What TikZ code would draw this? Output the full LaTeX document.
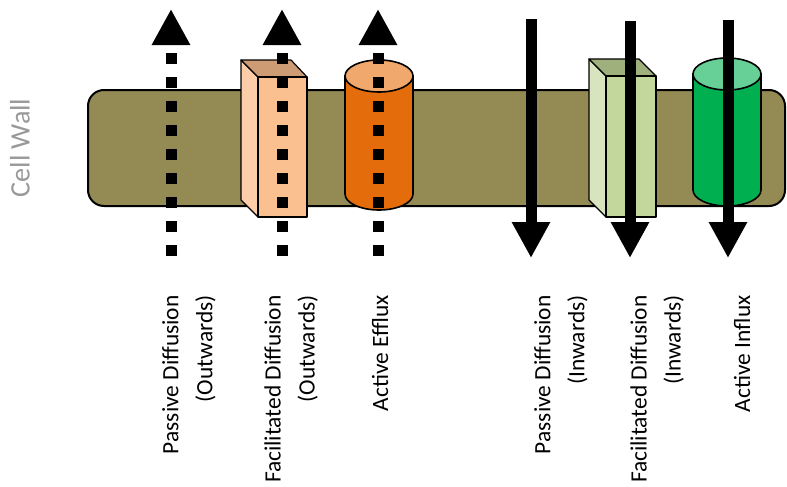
\documentclass[tikz,border=0pt]{standalone}
\usepackage{fontspec}
\setmainfont{Carlito}
\usepackage{xcolor}
\usepackage{tikz}
\usetikzlibrary{arrows.meta}
\definecolor{wallolive}{RGB}{148,138,84}
\definecolor{effluxorange}{RGB}{228,108,10}
\definecolor{effluxtop}{RGB}{240,168,108}
\definecolor{influxgreen}{RGB}{0,176,80}
\definecolor{influxtop}{RGB}{102,208,150}
\definecolor{chanfront}{RGB}{250,192,144}
\definecolor{chanside}{RGB}{252,205,168}
\definecolor{chantop}{RGB}{205,155,116}
\definecolor{gchanfront}{RGB}{195,214,155}
\definecolor{gchanside}{RGB}{215,228,190}
\definecolor{gchantop}{RGB}{160,176,125}
\tikzset{
  wall/.style={draw=black, line width=1pt, fill=wallolive, rounded corners=8pt},
  face/.style={draw=black, line width=0.6pt, line join=round},
  cyl/.style={draw=black, line width=0.8pt},
  outarrow/.style={line width=5.5pt, dash pattern=on 5.5pt off 6.5pt,
                   -{Triangle[width=18pt,length=18pt]}},
  inarrow/.style={line width=5.5pt, -{Triangle[width=18pt,length=18pt]}},
  lbl/.style={rotate=90, anchor=east, inner sep=0pt, align=right,
              font=\fontsize{11.7}{17}\selectfont},
}

\begin{document}
\begin{tikzpicture}[x=0.5pt, y=-0.5pt]
  \useasboundingbox (0,0) rectangle (787,487);

  % membrane
  \draw[wall] (88,90) rectangle (785,206);
  \node[rotate=90, text=black!40, font=\fontsize{14.1}{16}\selectfont] (cw) at (20,148) {Cell Wall};

  % facilitated channel (outwards)
  \draw[face, fill=chanside] (241,60) -- (258,77) -- (258,217) -- (241,200) -- cycle;
  \draw[face, fill=chantop] (241,60) -- (291,60) -- (307,77) -- (258,77) -- cycle;
  \draw[face, fill=chanfront] (258,77) rectangle (307,217);

  % efflux pump
  \draw[cyl, fill=effluxorange] (345,76) -- (345,194)
    arc[start angle=180, end angle=360, x radius=17pt, y radius=8pt] -- (413,76) -- cycle;
  \draw[cyl, fill=effluxtop] (379,76) ellipse[x radius=17pt, y radius=8pt];

  % facilitated channel (inwards)
  \draw[face, fill=gchanside] (589,59) -- (606,76) -- (606,217) -- (589,200) -- cycle;
  \draw[face, fill=gchantop] (589,59) -- (639,59) -- (656,76) -- (606,76) -- cycle;
  \draw[face, fill=gchanfront] (606,76) rectangle (656,217);

  % influx pump
  \draw[cyl, fill=influxgreen] (693,74) -- (693,190)
    arc[start angle=180, end angle=360, x radius=17pt, y radius=8pt] -- (761,74) -- cycle;
  \draw[cyl, fill=influxtop] (727,74) ellipse[x radius=17pt, y radius=8pt];

  % flux arrows
  \coordinate (pdo-s) at (171,256);  \coordinate (pdo-e) at (171,9);
  \coordinate (fdo-s) at (282,256);  \coordinate (fdo-e) at (282,9);
  \coordinate (eff-s) at (378,256);  \coordinate (eff-e) at (378,9);
  \coordinate (pdi-s) at (531,19);   \coordinate (pdi-e) at (531,258);
  \coordinate (fdi-s) at (630,21);   \coordinate (fdi-e) at (630,258);
  \coordinate (inf-s) at (728,20);   \coordinate (inf-e) at (728,258);
  \draw[outarrow] (pdo-s) -- (pdo-e);
  \draw[outarrow] (fdo-s) -- (fdo-e);
  \draw[outarrow] (eff-s) -- (eff-e);
  \draw[inarrow] (pdi-s) -- (pdi-e);
  \draw[inarrow] (fdi-s) -- (fdi-e);
  \draw[inarrow] (inf-s) -- (inf-e);

  % labels
  \node[lbl] (lbl-pdo) at (189,295) {Passive Diffusion\\(Outwards)};
  \node[lbl] (lbl-fdo) at (291,295) {Facilitated Diffusion\\(Outwards)};
  \node[lbl] (lbl-eff) at (380,295) {Active Efflux};
  \node[lbl] (lbl-pdi) at (561,295) {Passive Diffusion\\(Inwards)};
  \node[lbl] (lbl-fdi) at (657,295) {Facilitated Diffusion\\(Inwards)};
  \node[lbl] (lbl-inf) at (742,295) {Active Influx};
\end{tikzpicture}
\end{document}
